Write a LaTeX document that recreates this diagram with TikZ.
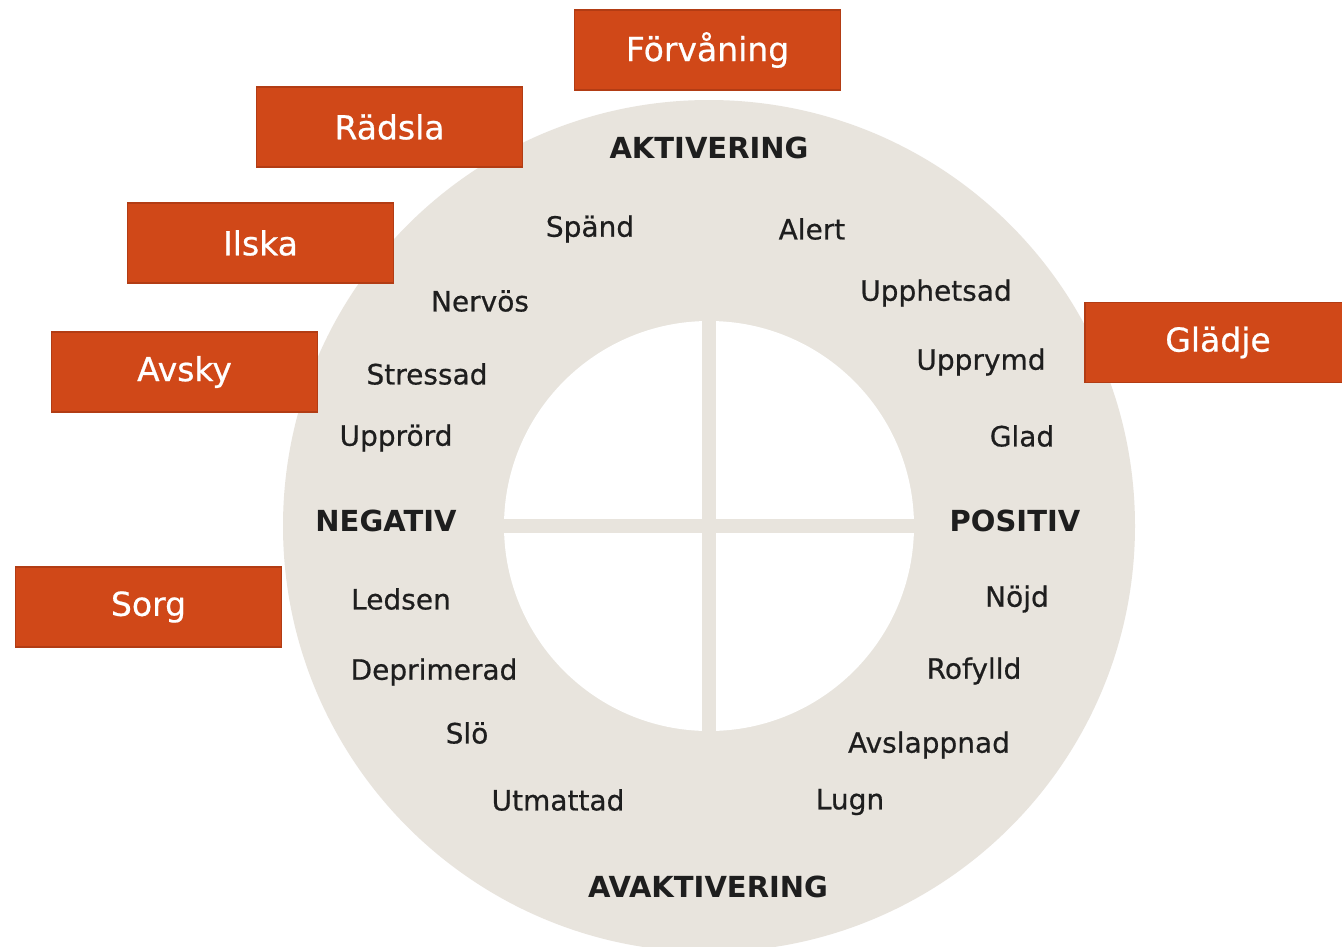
\documentclass[tikz,border=0pt]{standalone}
\usepackage{fontspec}
\setmainfont{DejaVu Sans}
\newfontfamily\medfont[FakeBold=0.6]{DejaVu Sans}
\definecolor{ring}{HTML}{E8E4DD}
\definecolor{boxfill}{HTML}{D04818}
\definecolor{boxline}{HTML}{B23C14}
\definecolor{ink}{HTML}{1E1E1E}
\tikzset{
  emo/.style={draw=boxline, line width=1.5pt, fill=boxfill, text=white, minimum width=266pt, minimum height=80pt, inner sep=0pt, font=\medfont\fontsize{33}{35}\selectfont},
  word/.style={text=ink, inner sep=0pt, font=\medfont\fontsize{28}{30}\selectfont},
  axis/.style={text=ink, inner sep=0pt, font=\bfseries\fontsize{29}{31}\selectfont},
}
\begin{document}
\begin{tikzpicture}[x=1pt,y=-1pt]
\useasboundingbox (0,0) rectangle (1342,946);
\fill[white] (0,0) rectangle (1342,946);
% ring
\coordinate (c) at (709,526);
\fill[ring] (c) circle (426);
\fill[white] (c) circle (205);
\draw[ring, line width=14pt] (709,316) -- (709,736);
\draw[ring, line width=14pt] (499,526) -- (919,526);
% emotion boxes
\node[emo] (forv) at (707.5,50) {Förvåning};
\node[emo] (rads) at (389.5,127) {Rädsla};
\node[emo] (ilska) at (260.5,243) {Ilska};
\node[emo] (avsky) at (184.5,372) {Avsky};
\node[emo] (sorg) at (148.5,607) {Sorg};
\node[emo] (gladje) at (1218,342.5) {Glädje};
% axis labels
\node[axis] (akt) at (709,148) {AKTIVERING};
\node[axis] (neg) at (386,521) {NEGATIV};
\node[axis] (pos) at (1015,521) {POSITIV};
\node[axis] (avakt) at (708,887) {AVAKTIVERING};
% words
\node[word] (spand) at (590,229) {Spänd};
\node[word] (alert) at (812,229) {Alert};
\node[word] (nervos) at (480,301) {Nervös};
\node[word] (upph) at (936,293) {Upphetsad};
\node[word] (stress) at (427,374) {Stressad};
\node[word] (upprymd) at (981,362) {Upprymd};
\node[word] (upprord) at (396,438) {Upprörd};
\node[word] (glad) at (1022,436) {Glad};
\node[word] (ledsen) at (401,599) {Ledsen};
\node[word] (nojd) at (1017,599) {Nöjd};
\node[word] (depr) at (434,672) {Deprimerad};
\node[word] (rofylld) at (974,671) {Rofylld};
\node[word] (slo) at (467,733) {Slö};
\node[word] (avsl) at (929,745) {Avslappnad};
\node[word] (utm) at (558,800) {Utmattad};
\node[word] (lugn) at (850,802) {Lugn};
\end{tikzpicture}
\end{document}
